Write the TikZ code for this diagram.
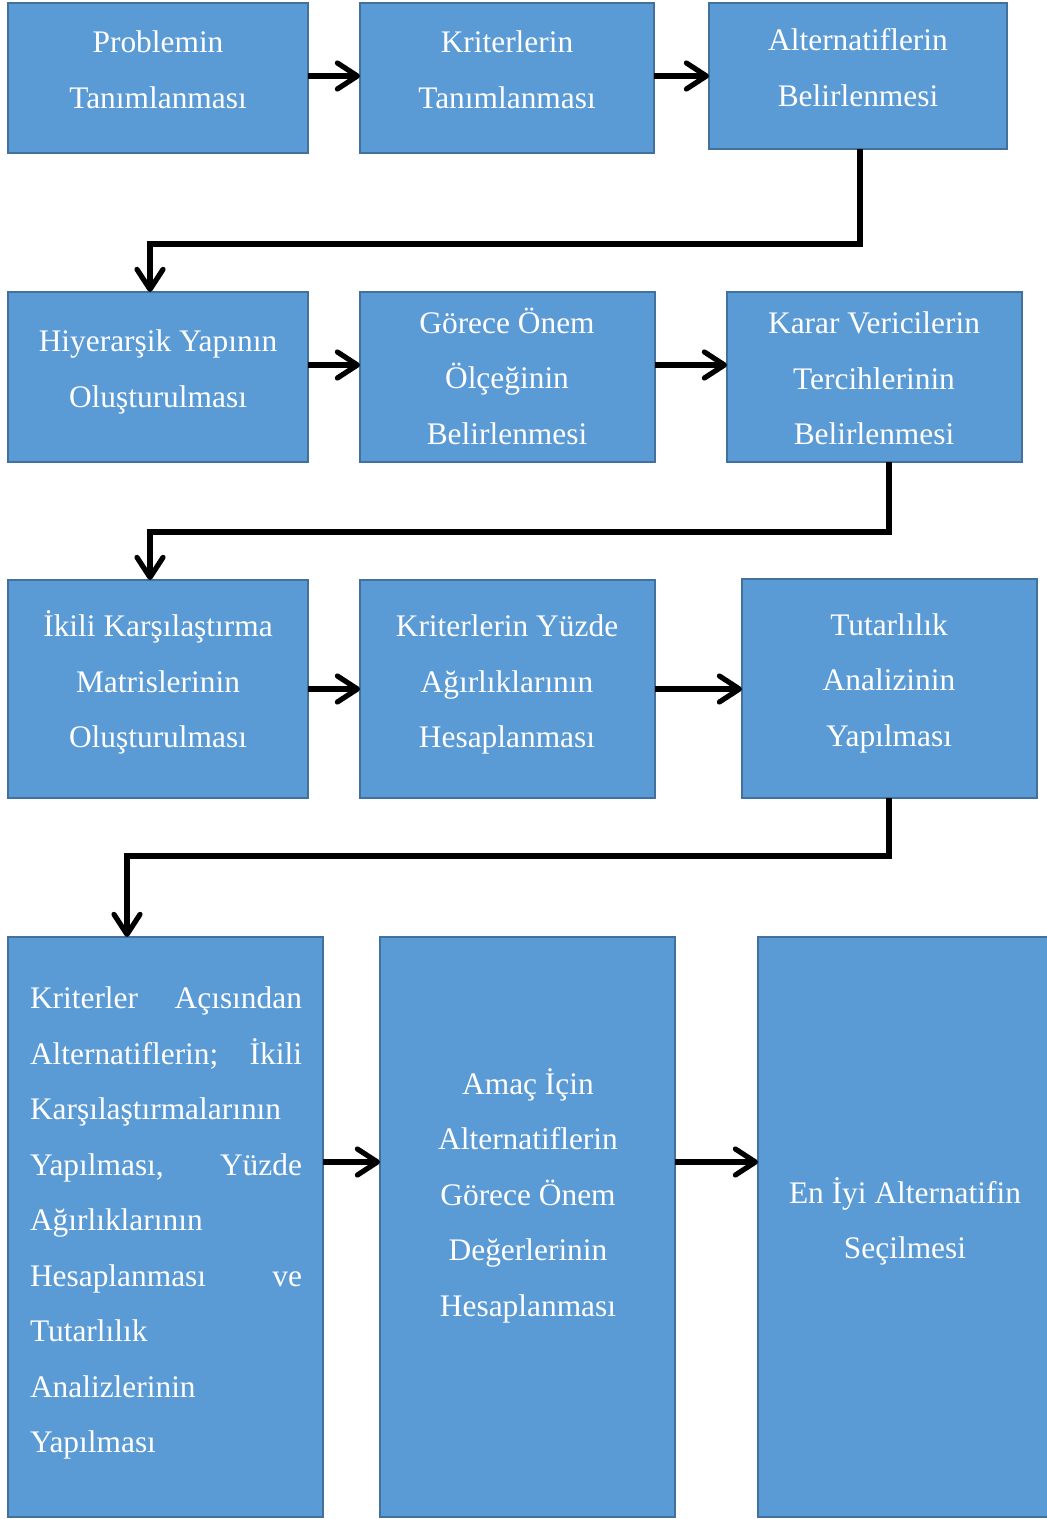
\documentclass[tikz,border=0pt]{standalone}
\usepackage{fontspec}
\setmainfont{Liberation Serif}
\usetikzlibrary{arrows.meta}
\definecolor{boxc}{HTML}{5B9BD5}
\definecolor{bordc}{HTML}{41719C}
\begin{document}
\begin{tikzpicture}[x=0.5pt,y=-0.5pt,
  box/.style={draw=bordc, fill=boxc, line width=1pt, inner sep=0pt, outer sep=0pt},
  txt/.style={text=white, font=\fontsize{15.7}{27.75}\selectfont, align=center, inner sep=0pt},
  conn/.style={line width=2.6pt, line join=miter, -{Straight Barb[length=10pt,width=13pt,round]}}]
\useasboundingbox (0,0) rectangle (1046,1519);
% row 1
\node[box, minimum width=150pt, minimum height=75pt] (b1) at (158,78) {};
\node[box, minimum width=147pt, minimum height=75pt] (b2) at (507,78) {};
\node[box, minimum width=149pt, minimum height=73pt] (b3) at (858,76) {};
\node[txt] (t1) at (158,70) {Problemin\\Tanımlanması};
\node[txt] (t2) at (507,70) {Kriterlerin\\Tanımlanması};
\node[txt] (t3) at (858,67.5) {Alternatiflerin\\Belirlenmesi};
% row 2
\node[box, minimum width=150pt, minimum height=85pt] (b4) at (158,377) {};
\node[box, minimum width=147.5pt, minimum height=85pt] (b5) at (507.5,377) {};
\node[box, minimum width=147.5pt, minimum height=85pt] (b6) at (874.5,377) {};
\node[txt] (t4) at (158,372) {Hiyerarşik Yapının\\Oluşturulması};
\node[txt] (t5) at (507,376) {Görece Önem\\Ölçeğinin\\Belirlenmesi};
\node[txt] (t6) at (874,378.5) {Karar Vericilerin\\Tercihlerinin\\Belirlenmesi};
% row 3
\node[box, minimum width=150pt, minimum height=109pt] (b7) at (158,689) {};
\node[box, minimum width=147.5pt, minimum height=109pt] (b8) at (507.5,689) {};
\node[box, minimum width=147.5pt, minimum height=109.5pt] (b9) at (889.5,688.5) {};
\node[txt] (t7) at (158,682.5) {İkili Karşılaştırma\\Matrislerinin\\Oluşturulması};
\node[txt] (t8) at (507,684.5) {Kriterlerin Yüzde\\Ağırlıklarının\\Hesaplanması};
\node[txt] (t9) at (889,683) {Tutarlılık\\Analizinin\\Yapılması};
% row 4
\node[box, minimum width=157.5pt, minimum height=290pt] (b10) at (165.5,1227) {};
\node[box, minimum width=147.5pt, minimum height=290pt] (b11) at (527.5,1227) {};
\node[box, minimum width=146pt, minimum height=290pt] (b12) at (904,1227) {};
\node[txt, text width=136pt, align=left] (t10) at (166,1223) {Kriterler\hfill Açısından\\Alternatiflerin;\hfill İkili\\Karşılaştırmalarının\\Yapılması,\hfill Yüzde\\Ağırlıklarının\\Hesaplanması\hfill ve\\Tutarlılık\\Analizlerinin\\Yapılması};
\node[txt] (t11) at (528,1195.5) {Amaç İçin\\Alternatiflerin\\Görece Önem\\Değerlerinin\\Hesaplanması};
\node[txt] (t12) at (905,1221.5) {En İyi Alternatifin\\Seçilmesi};
% helper coordinates
\coordinate (r1) at (0,76);
\coordinate (r2) at (0,365);
\coordinate (r3) at (0,689);
\coordinate (r4) at (0,1162);
\coordinate (k1) at (860,244);
\coordinate (k2) at (150,244);
\coordinate (k3) at (889,532);
\coordinate (k4) at (150,532);
\coordinate (k5) at (889,856);
\coordinate (k6) at (127,856);
% horizontal arrows
\draw[conn] (b1.east |- r1) -- (b2.west |- r1);
\draw[conn] (b2.east |- r1) -- (b3.west |- r1);
\draw[conn] (b4.east |- r2) -- (b5.west |- r2);
\draw[conn] (b5.east |- r2) -- (b6.west |- r2);
\draw[conn] (b7.east |- r3) -- (b8.west |- r3);
\draw[conn] (b8.east |- r3) -- (b9.west |- r3);
\draw[conn] (b10.east |- r4) -- (b11.west |- r4);
\draw[conn] (b11.east |- r4) -- (b12.west |- r4);
% row-to-row connectors
\draw[conn] (b3.south -| k1) -- (k1) -- (k2) -- (k2 |- b4.north);
\draw[conn] (b6.south -| k3) -- (k3) -- (k4) -- (k4 |- b7.north);
\draw[conn] (b9.south -| k5) -- (k5) -- (k6) -- (k6 |- b10.north);
\end{tikzpicture}
\end{document}
